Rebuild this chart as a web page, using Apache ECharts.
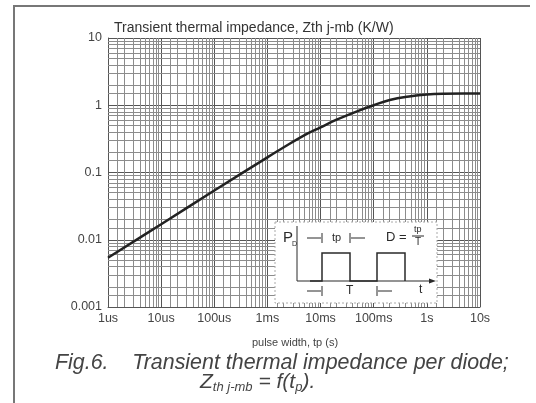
<!DOCTYPE html>
<html>
<head>
<meta charset="utf-8">
<script src="https://cdn.jsdelivr.net/npm/echarts@6/dist/echarts.min.js"></script>
<style>
  html, body { margin: 0; padding: 0; background: #fff; }
  #chart { width: 536px; height: 403px; }
</style>
</head>
<body>
<div id="chart"></div>
<script>
// pulse width (s) and Zth j-mb (K/W)
const pulseWidth = [1e-6, 1e-5, 1e-4, 1e-3, 2e-3, 5e-3, 1e-2, 2e-2, 5e-2, 0.1, 0.2, 0.5, 1, 2, 5, 10]
const zth = [0.0054, 0.017, 0.054, 0.168, 0.235, 0.36, 0.47, 0.61, 0.82, 1.0, 1.2, 1.36, 1.44, 1.48, 1.5, 1.5]

const xTickLabels = ['1us', '10us', '100us', '1ms', '10ms', '100ms', '1s', '10s']
const yTickLabels = ['0.001', '0.01', '0.1', '1', '10']
// minor grid steps inside each decade
const gridSteps = [1.5, 2, 3, 4, 5, 6, 7, 8, 9]

const xDecades = [-6, -5, -4, -3, -2, -1, 0]
const yDecades = [-3, -2, -1, 0]
const xMin = 1e-6, xMax = 10, yMin = 0.001, yMax = 10

const minorLines = []
xDecades.forEach(d => gridSteps.forEach(s => {
  const v = s * Math.pow(10, d)
  minorLines.push([{ coord: [v, yMin] }, { coord: [v, yMax] }])
}))
yDecades.forEach(d => gridSteps.forEach(s => {
  const v = s * Math.pow(10, d)
  minorLines.push([{ coord: [xMin, v] }, { coord: [xMax, v] }])
}))

const font = 'Liberation Sans, Arial, sans-serif'
const ink = '#2a2a2a'

const chart = echarts.init(document.getElementById('chart'))

// inset pulse diagram (decoration)
const inset = [
  { type: 'rect', shape: { x: 275, y: 222, width: 162, height: 81 },
    style: { fill: '#fff', stroke: '#aaa', lineWidth: 1, lineDash: [2, 2] }, z: 10 },
  { type: 'polyline', shape: { points: [[297, 281], [433, 281]] }, style: { stroke: ink, lineWidth: 1.2 }, z: 11 },
  { type: 'polygon', shape: { points: [[436, 281], [429, 278.5], [429, 283.5]] }, style: { fill: ink }, z: 11 },
  { type: 'polyline', shape: { points: [[297, 281], [297, 226]] }, style: { stroke: ink, lineWidth: 1 }, z: 11 },
  { type: 'polyline', shape: { points: [[310, 281], [322, 281], [322, 253], [350, 253], [350, 281], [377, 281], [377, 253], [405, 253], [405, 281]] },
    style: { stroke: ink, lineWidth: 1.5, fill: null }, z: 11 },
  { type: 'text', style: { text: 'P', x: 283, y: 230, font: '15px ' + font, fill: ink }, z: 11 },
  { type: 'text', style: { text: 'D', x: 292, y: 241, font: '7px ' + font, fill: ink }, z: 11 },
  // tp arrows
  { type: 'polyline', shape: { points: [[307, 238], [321, 238]] }, style: { stroke: ink, lineWidth: 1 }, z: 11 },
  { type: 'polyline', shape: { points: [[322, 233], [322, 243]] }, style: { stroke: ink, lineWidth: 1 }, z: 11 },
  { type: 'polyline', shape: { points: [[351, 238], [365, 238]] }, style: { stroke: ink, lineWidth: 1 }, z: 11 },
  { type: 'polyline', shape: { points: [[350, 233], [350, 243]] }, style: { stroke: ink, lineWidth: 1 }, z: 11 },
  { type: 'text', style: { text: 'tp', x: 332, y: 232, font: '11px ' + font, fill: ink }, z: 11 },
  { type: 'text', style: { text: 'D = ', x: 386, y: 231, font: '13px ' + font, fill: ink }, z: 11 },
  { type: 'text', style: { text: 'tp', x: 414, y: 225, font: '9px ' + font, fill: ink }, z: 11 },
  { type: 'polyline', shape: { points: [[412, 236], [424, 236]] }, style: { stroke: ink, lineWidth: 1 }, z: 11 },
  { type: 'text', style: { text: 'T', x: 415, y: 237, font: '10px ' + font, fill: ink }, z: 11 },
  // T arrows
  { type: 'polyline', shape: { points: [[307, 291], [321, 291]] }, style: { stroke: ink, lineWidth: 1 }, z: 11 },
  { type: 'polyline', shape: { points: [[322, 286], [322, 296]] }, style: { stroke: ink, lineWidth: 1 }, z: 11 },
  { type: 'polyline', shape: { points: [[378, 291], [392, 291]] }, style: { stroke: ink, lineWidth: 1 }, z: 11 },
  { type: 'polyline', shape: { points: [[377, 286], [377, 296]] }, style: { stroke: ink, lineWidth: 1 }, z: 11 },
  { type: 'text', style: { text: 'T', x: 346, y: 285, font: '12px ' + font, fill: ink }, z: 11 },
  { type: 'text', style: { text: 't', x: 419, y: 284, font: '12px ' + font, fill: ink }, z: 11 }
]

const option = {
  backgroundColor: '#fff',
  animation: false,
  grid: { left: 108, top: 38, right: 56, bottom: 96 },
  title: [
    { text: 'Transient thermal impedance, Zth j-mb (K/W)', left: 109, top: 16,
      textStyle: { fontFamily: font, fontSize: 14, fontWeight: 'normal', color: '#333' } },
    { text: 'pulse width, tp (s)', left: 290, top: 332, textAlign: 'center',
      textStyle: { fontFamily: font, fontSize: 11, fontWeight: 'normal', color: '#444' } }
  ],
  graphic: [
    { type: 'polyline', shape: { points: [[14, 403], [14, 6], [530, 6]] }, style: { stroke: '#777', lineWidth: 2, fill: null } },
    { type: 'text', left: 55, top: 353, style: { text: 'Fig.6.    Transient thermal impedance per diode;',
      font: 'italic 21.4px ' + font, fill: '#444' } },
    { type: 'text', left: 200, top: 372, style: { text: '{a|Z}{s|th j-mb}{a| = f(t}{s|p}{a|).}',
      rich: { a: { font: 'italic 21px ' + font, fill: '#444' }, s: { font: 'italic 13px ' + font, fill: '#444', verticalAlign: 'bottom', padding: [10, 0, 0, 0] } } } },
    ...inset
  ],
  xAxis: {
    type: 'log', logBase: 10, min: xMin, max: xMax,
    axisLine: { show: true, lineStyle: { color: '#555', width: 1 } },
    axisTick: { show: false },
    axisLabel: {
      fontFamily: font, fontSize: 12.5, color: '#444', margin: 5,
      formatter: v => xTickLabels[Math.round(Math.log10(v)) + 6]
    },
    splitLine: { show: true, lineStyle: { color: '#555', width: 1 } }
  },
  yAxis: {
    type: 'log', logBase: 10, min: yMin, max: yMax,
    axisLine: { show: true, lineStyle: { color: '#555', width: 1 } },
    axisTick: { show: false },
    axisLabel: {
      fontFamily: font, fontSize: 12.5, color: '#444', margin: 6,
      formatter: v => yTickLabels[Math.round(Math.log10(v)) + 3]
    },
    splitLine: { show: true, lineStyle: { color: '#555', width: 1 } }
  },
  series: [
    {
      type: 'line', data: [], silent: true,
      markLine: {
        silent: true, symbol: 'none', label: { show: false },
        lineStyle: { color: '#8c8c8c', width: 1, type: 'solid' },
        data: minorLines
      }
    },
    {
      type: 'line', smooth: 0.4, showSymbol: false, z: 5,
      lineStyle: { color: '#222', width: 2.5 },
      data: pulseWidth.map((t, i) => [t, zth[i]])
    }
  ]
}

chart.setOption(option)
</script>
</body>
</html>
